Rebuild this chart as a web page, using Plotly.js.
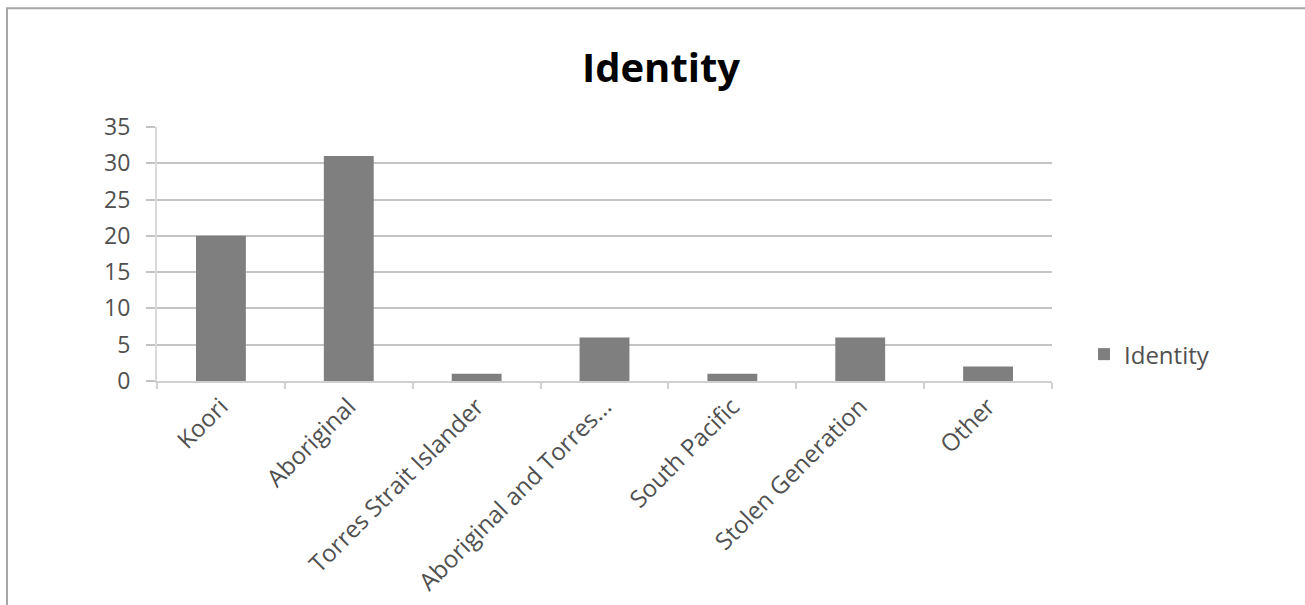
<!DOCTYPE html>
<html>
<head>
<meta charset="utf-8">
<script src="https://cdn.plot.ly/plotly-3.0.1.min.js"></script>
<style>
  html, body { margin: 0; padding: 0; background: #ffffff; }
  #chart { width: 1305px; height: 605px; }
</style>
</head>
<body>
<div id="chart"></div>
<script>
const categories = ["Koori", "Aboriginal", "Torres Strait Islander", "Aboriginal and Torres...", "South Pacific", "Stolen Generation", "Other"];
const values = [20, 31, 1, 6, 1, 6, 2];
const seriesName = "Identity";
const yTicks = [0, 5, 10, 15, 20, 25, 30, 35];

const L = 157, R = 1052, T = 127, B = 381.5;
const pw = R - L, ph = B - T;

const trace = {
  type: "bar",
  x: categories,
  y: values,
  name: seriesName,
  marker: { color: "#7f7f7f" },
  showlegend: true,
  hoverinfo: "x+y"
};

const layout = {
  width: 1305,
  height: 605,
  paper_bgcolor: "#ffffff",
  plot_bgcolor: "#ffffff",
  margin: { l: L, r: 1305 - R, t: T, b: 605 - B, pad: 0 },
  font: { family: "Open Sans, sans-serif", color: "#505050" },
  title: {
    text: "Identity",
    font: { family: "Open Sans, sans-serif", size: 40, color: "#000000", weight: "bold" },
    x: 661 / 1305, xref: "container", xanchor: "center",
    y: 1 - 68 / 605, yref: "container", yanchor: "middle"
  },
  bargap: 0.61,
  xaxis: {
    type: "category",
    tickangle: -45,
    tickfont: { size: 24, color: "#505050" },
    showline: true,
    linecolor: "#d0d0d0",
    linewidth: 2,
    ticks: "outside",
    tickson: "boundaries",
    ticklen: 6,
    tickcolor: "#d0d0d0",
    tickwidth: 2,
    showgrid: false,
    zeroline: false,
    fixedrange: true
  },
  yaxis: {
    range: [0, 35],
    tickvals: yTicks,
    ticktext: yTicks.map(String),
    tickfont: { size: 23, color: "#505050" },
    ticklabelstandoff: 11,
    showline: true,
    linecolor: "#d9d9d9",
    linewidth: 2,
    ticks: "outside",
    ticklen: 9,
    tickcolor: "#c4c4c4",
    tickwidth: 2,
    showgrid: true,
    gridcolor: "#c4c4c4",
    gridwidth: 2,
    zeroline: false,
    fixedrange: true
  },
  legend: {
    x: (1084 - L) / pw,
    xanchor: "left",
    y: (B - 355) / ph,
    yanchor: "middle",
    font: { size: 24, color: "#505050" },
    bgcolor: "rgba(0,0,0,0)"
  },
  shapes: [{
    type: "rect",
    xref: "paper", yref: "paper",
    x0: (7 - L) / pw, x1: (1320 - L) / pw,
    y0: 1 - (620 - T) / ph, y1: 1 + (T - 8) / ph,
    line: { color: "#a6a6a6", width: 2 },
    fillcolor: "rgba(0,0,0,0)",
    layer: "below"
  }]
};

Plotly.newPlot("chart", [trace], layout, { displayModeBar: false, staticPlot: false });
</script>
</body>
</html>
